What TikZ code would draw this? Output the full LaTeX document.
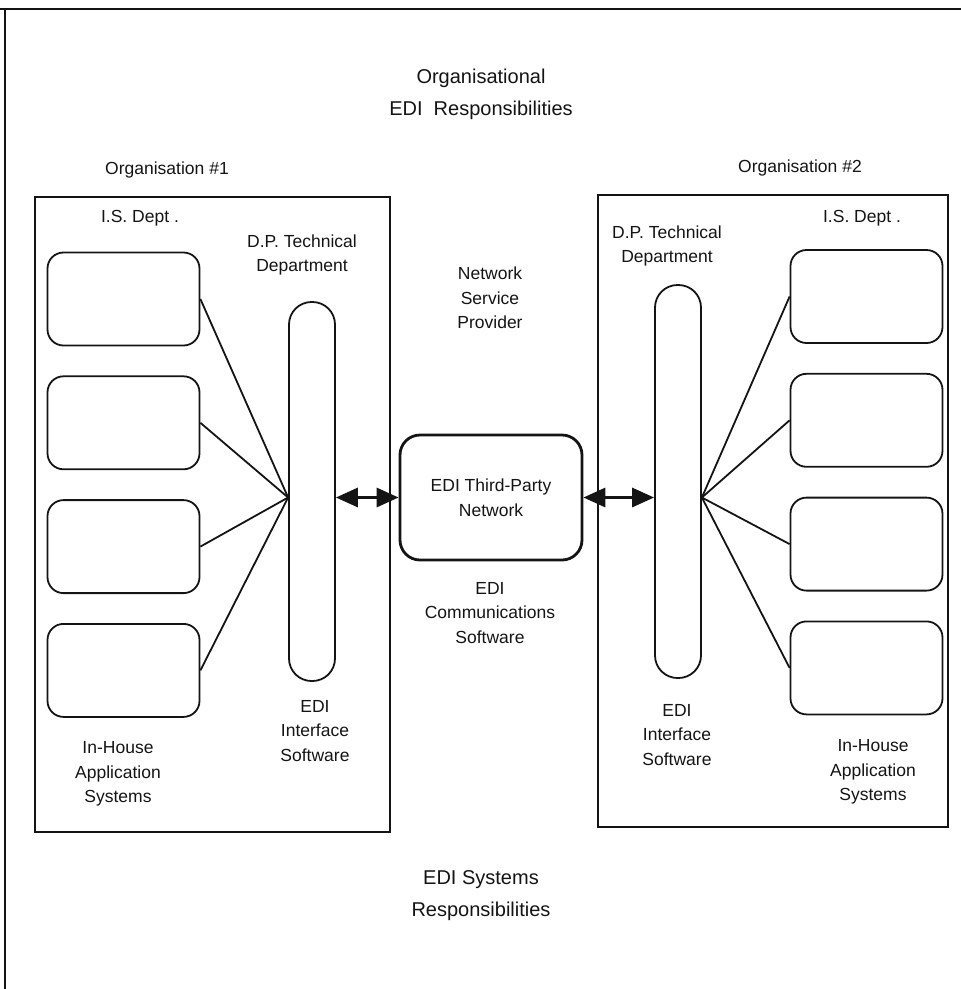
\documentclass[tikz,border=0pt]{standalone}
\usepackage{fontspec}
\setmainfont{Liberation Sans}
\usetikzlibrary{
  arrows.meta,
  positioning,
  calc
}
\definecolor{inkcolor}{RGB}{20, 20, 20}
\tikzset{
blocktext/.style={
  align=center,
  font=\fontsize{17.5}{24.5}\selectfont,
  text=inkcolor
},
titlelabel/.style={
  align=center,
  font=\fontsize{20}{32}\selectfont,
  text=inkcolor
},
orgblock/.style={
  draw=inkcolor,
  line width=1.8pt,
  inner sep=0pt
},
appblock/.style={
  draw=inkcolor,
  rounded corners=16pt,
  line width=1.8pt,
  minimum width=152pt,
  minimum height=93pt,
  inner sep=0pt
},
busblock/.style={
  draw=inkcolor,
  rounded corners=22.5pt,
  line width=1.8pt,
  minimum width=46pt,
  inner sep=0pt
},
netblock/.style={
  draw=inkcolor,
  rounded corners=20pt,
  line width=2.8pt,
  minimum width=182pt,
  minimum height=125pt,
  blocktext
},
fanline/.style={
  draw=inkcolor,
  line width=1.8pt
},
linkarrow/.style={
  {Triangle[length=22pt,width=19pt]}-{Triangle[length=22pt,width=19pt]},
  line width=3.2pt,
  draw=inkcolor
}
}

\begin{document}
\begin{tikzpicture}[x=1pt, y=-1pt]
  \useasboundingbox (0,0) rectangle (961,989);

  % Outer frame (top and left only)
  \draw[inkcolor, line width=2pt] (0,9) -- (961,9);
  \draw[inkcolor, line width=1.5pt] (5,9) -- (5,989);

  % Headings
  \node[titlelabel] (orgresp) at (481,94) {Organisational\\EDI\ \ Responsibilities};
  \node[titlelabel] (sysresp) at (481,896) {EDI Systems\\Responsibilities};

  % Organisations
  \node[orgblock, minimum width=355pt, minimum height=635pt] (org1) at (212.5,514.5) {};
  \node[orgblock, minimum width=350pt, minimum height=632pt] (org2) at (773,511) {};
  \node[blocktext] (org1lbl) at (167,170) {Organisation \#1};
  \node[blocktext] (org2lbl) at (800,168) {Organisation \#2};

  % In-house application systems
  \node[appblock] (app1a) at (123.5,299) {};
  \node[appblock, below=29pt of app1a] (app1b) {};
  \node[appblock, below=29pt of app1b] (app1c) {};
  \node[appblock, below=29pt of app1c] (app1d) {};
  \node[appblock] (app2a) at (866.5,296.5) {};
  \node[appblock, below=29pt of app2a] (app2b) {};
  \node[appblock, below=29pt of app2b] (app2c) {};
  \node[appblock, below=29pt of app2c] (app2d) {};

  % EDI interface software
  \node[busblock, minimum height=379pt] (bus1) at (312,491.5) {};
  \node[busblock, minimum height=393pt] (bus2) at (678,481.5) {};

  % Third-party network
  \node[netblock] (net) at (491,497.5) {EDI Third-Party\\Network};

  % Hubs where the fan lines meet
  \coordinate (hub1) at (bus1.west |- net.west);
  \coordinate (hub2) at (bus2.east |- net.east);

  % Fan lines
  \foreach \app in {app1a,app1b,app1c,app1d}
    \draw[fanline] (\app.east) -- (hub1);
  \foreach \app in {app2a,app2b,app2c,app2d}
    \draw[fanline] (\app.west) -- (hub2);

  % Links
  \draw[linkarrow] (bus1.east |- net.west) -- (net.west);
  \draw[linkarrow] (net.east) -- (bus2.west |- net.east);

  % Labels
  \node[blocktext] (isd1) at (140,218) {I.S. Dept .};
  \node[blocktext] (isd2) at (862,218) {I.S. Dept .};
  \node[blocktext] (dpt1) at (302,255) {D.P. Technical\\Department};
  \node[blocktext] (dpt2) at (667,246) {D.P. Technical\\Department};
  \node[blocktext] (nsp) at (490,298) {Network\\Service\\Provider};
  \node[blocktext] (comms) at (490,613) {EDI\\Communications\\Software};
  \node[blocktext] (ifs1) at (315,731) {EDI\\Interface\\Software};
  \node[blocktext] (ifs2) at (677,735) {EDI\\Interface\\Software};
  \node[blocktext] (ihs1) at (118,774) {In-House\\Application\\Systems};
  \node[blocktext] (ihs2) at (873,772) {In-House\\Application\\Systems};
\end{tikzpicture}
\end{document}
